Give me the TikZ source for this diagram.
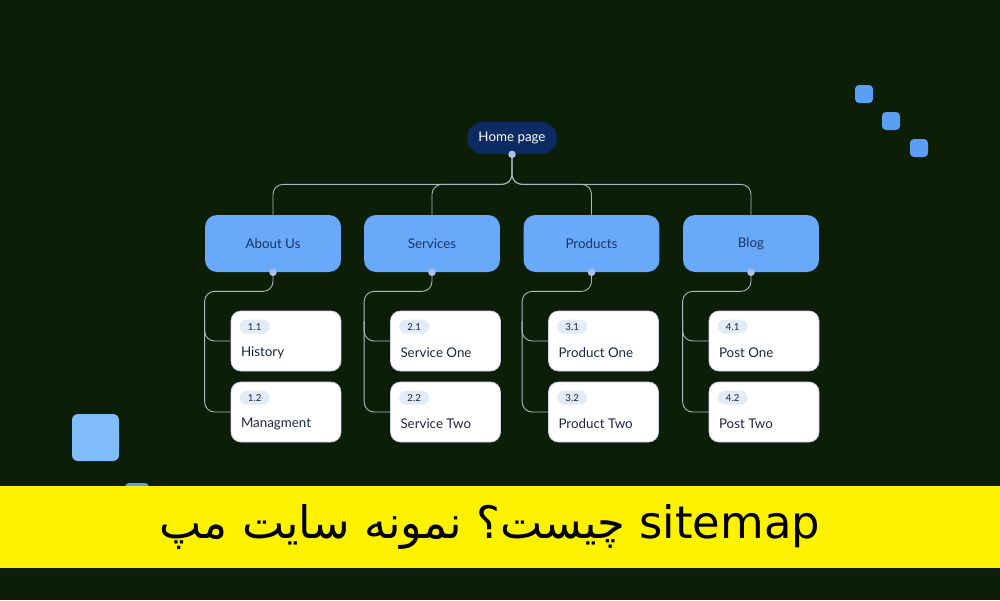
\documentclass[tikz,border=0pt]{standalone}
\usepackage{fontspec}
\setmainfont{Lato}
\newfontfamily\arabicfont[Script=Arabic]{DejaVu Sans}
\TeXXeTstate=1
\usetikzlibrary{calc}
\definecolor{bgc}{HTML}{0C1E07}
\definecolor{parentc}{HTML}{68A9F9}
\definecolor{navyc}{HTML}{1C3566}
\definecolor{homec}{HTML}{0B2B62}
\definecolor{childedge}{HTML}{C9D6E6}
\definecolor{badgec}{HTML}{E2EBF8}
\definecolor{darktext}{HTML}{1D2740}
\definecolor{connc}{HTML}{AEBBBE}
\definecolor{dotc}{HTML}{A9C2EC}
\definecolor{sqa}{HTML}{5A9EF6}
\definecolor{sqb}{HTML}{80BCFA}
\definecolor{yel}{HTML}{FFF200}
\begin{document}
\begin{tikzpicture}[x=0.02cm,y=-0.02cm,
  parent/.style={fill=parentc, rounded corners=0.24cm, minimum width=2.72cm, minimum height=1.14cm, text=navyc, font=\fontsize{7.6}{9}\selectfont, inner sep=0pt},
  child/.style={fill=white, draw=childedge, line width=0.4pt, rounded corners=0.2cm, minimum width=2.2cm, minimum height=1.2cm, inner sep=0pt},
  badge/.style={fill=badgec, rounded corners=0.14cm, minimum width=0.6cm, minimum height=0.28cm, inner sep=0pt, font=\fontsize{5.5}{6}\selectfont, text=darktext},
  lbl/.style={anchor=west, inner sep=0pt, font=\fontsize{7.6}{9}\selectfont, text=darktext},
  conn/.style={draw=connc, line width=0.5pt, rounded corners=0.2cm},
  dot/.style={circle, fill=dotc, inner sep=0pt, minimum size=0.15cm}]
\useasboundingbox (0,0) rectangle (1000,600);
\fill[bgc] (0,0) rectangle (1000,600);
% decorative squares
\fill[sqa, rounded corners=0.08cm] (855,85) rectangle (873,103);
\fill[sqa, rounded corners=0.08cm] (882,112) rectangle (900,130);
\fill[sqa, rounded corners=0.08cm] (910,139) rectangle (928,157);
\fill[sqb, rounded corners=0.12cm] (72,414) rectangle (119,461);
\fill[sqa, rounded corners=0.08cm] (125,483) rectangle (149,507);
% home
\node[fill=homec, rounded corners=0.32cm, minimum width=1.8cm, minimum height=0.64cm, text=white, font=\fontsize{7.6}{9}\selectfont, inner sep=0pt] (home) at (512,138) {Home page};
\foreach \n/\pt/\px/\cx/\ca/\cb in {1/About Us/273/286/History/Managment, 2/Services/432/445.5/Service One/Service Two, 3/Products/591.5/603.5/Product One/Product Two, 4/Blog/751/764/Post One/Post Two} {
  \node[parent] (p\n) at (\px,243.5) {\pt};
  \node[child] (c\n1) at (\cx,341) {};
  \node[child] (c\n2) at (\cx,412) {};
  \node[badge] (b\n1) at ($(c\n1.north west)+(24,16)$) {\n.1};
  \node[badge] (b\n2) at ($(c\n2.north west)+(24,16)$) {\n.2};
  \node[lbl] (l\n1) at ($(c\n1.west)+(10,12)$) {\ca};
  \node[lbl] (l\n2) at ($(c\n2.west)+(10,12)$) {\cb};
  \draw[conn] (home.south) -- ++(0,30) -| (p\n.north);
  \draw[conn] (p\n.south) -- ++(0,19) -| ($(c\n2.west)+(-26,0)$) -- (c\n2.west);
  \draw[conn] ($(c\n1.west)+(-26,-20)$) |- (c\n1.west);
  \node[dot] (d\n) at (p\n.south) {};
}
\node[dot] (hd) at (home.south) {};
% banner
\fill[yel] (0,486) rectangle (1000,568);
\node[inner sep=0pt] (title) at (490,527) {\arabicfont\fontsize{25.5}{30}\selectfont\beginR\beginL sitemap\endL{} چیست؟ نمونه سایت مپ\endR};
\end{tikzpicture}
\end{document}
